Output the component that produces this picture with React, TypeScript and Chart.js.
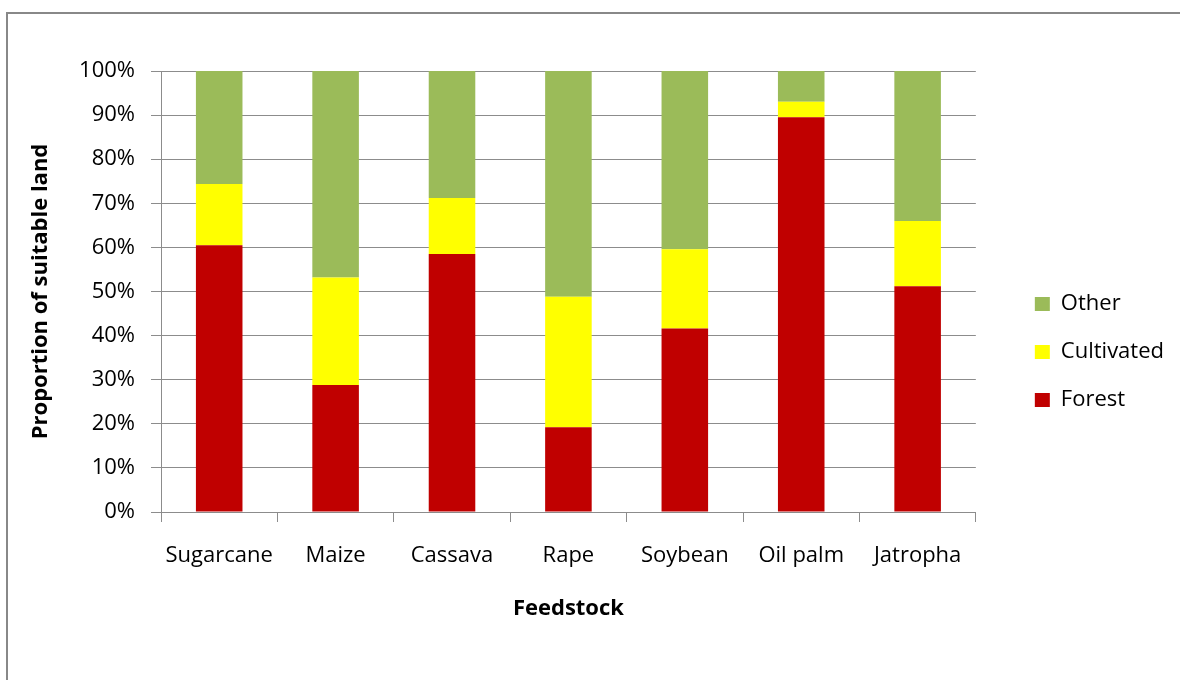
import React, { useEffect, useRef } from "react";
import { Chart, registerables } from "chart.js";

Chart.register(...registerables);

const categories = ["Sugarcane", "Maize", "Cassava", "Rape", "Soybean", "Oil palm", "Jatropha"];
const forest = [60.5, 28.8, 58.5, 19.2, 41.6, 89.5, 51.2];
const cultivated = [13.9, 24.4, 12.7, 29.6, 18.0, 3.5, 14.8];
const other = [25.6, 46.8, 28.8, 51.2, 40.4, 7.0, 34.0];
const yTicks = [0, 10, 20, 30, 40, 50, 60, 70, 80, 90, 100];

const FONT = "'Open Sans', 'Noto Sans', sans-serif";
const GRID = "#8c8c8c";

export default function App() {
  const ref = useRef<HTMLCanvasElement | null>(null);

  useEffect(() => {
    if (!ref.current) return;
    const chart = new Chart(ref.current, {
      type: "bar",
      data: {
        labels: categories,
        datasets: [
          { label: "Forest", data: forest, backgroundColor: "#C00000" },
          { label: "Cultivated", data: cultivated, backgroundColor: "#FFFF00" },
          { label: "Other", data: other, backgroundColor: "#9BBB59" },
        ],
      },
      options: {
        responsive: false,
        animation: false,
        layout: { padding: { left: 0, top: 71, right: 6, bottom: 47 } },
        datasets: { bar: { barPercentage: 0.4, categoryPercentage: 1 } },
        plugins: {
          legend: {
            position: "right",
            reverse: true,
            labels: {
              boxWidth: 15,
              boxHeight: 14,
              padding: 26,
              color: "#000",
              font: { family: FONT, size: 22 },
            },
          },
          tooltip: { enabled: false },
        },
        scales: {
          x: {
            stacked: true,
            grid: { drawOnChartArea: false, drawTicks: true, tickLength: 10, color: GRID, offset: true },
            border: { display: true, color: GRID },
            ticks: { color: "#000", padding: 21, font: { family: FONT, size: 22 } },
            title: {
              display: true,
              text: "Feedstock",
              color: "#000",
              font: { family: FONT, size: 22, weight: "bold" },
              padding: { top: 0, bottom: 11 },
            },
            afterFit: (s: any) => {
              s.height = 121;
            },
          },
          y: {
            stacked: true,
            min: 0,
            max: 100,
            afterBuildTicks: (s: any) => {
              s.ticks = yTicks.map((v) => ({ value: v }));
            },
            grid: { color: GRID, tickLength: 10, drawTicks: true },
            border: { display: true, color: GRID },
            ticks: {
              color: "#000",
              padding: 16,
              font: { family: FONT, size: 22 },
              callback: (v: any) => v + "%",
            },
            title: {
              display: true,
              text: "Proportion of suitable land",
              color: "#000",
              font: { family: FONT, size: 22, weight: "bold" },
              padding: { top: 28, bottom: 0 },
            },
            afterFit: (s: any) => {
              s.width = 161;
            },
          },
          gap: {
            type: "linear",
            position: "right",
            display: true,
            grid: { display: false, drawTicks: false },
            ticks: { display: false },
            border: { display: false },
            afterFit: (s: any) => {
              s.width = 33;
            },
          },
        },
      },
    });
    return () => chart.destroy();
  }, []);

  return (
    <div
      style={{
        position: "fixed",
        left: 0,
        top: 0,
        width: 1180,
        height: 680,
        overflow: "hidden",
        background: "#fff",
      }}
    >
      <div
        style={{
          position: "absolute",
          left: 6,
          top: 12,
          width: 1300,
          height: 800,
          borderLeft: "2px solid #888",
          borderTop: "2px solid #888",
        }}
      />
      <canvas ref={ref} width={1180} height={680} style={{ position: "absolute", left: 0, top: 0 }} />
    </div>
  );
}
